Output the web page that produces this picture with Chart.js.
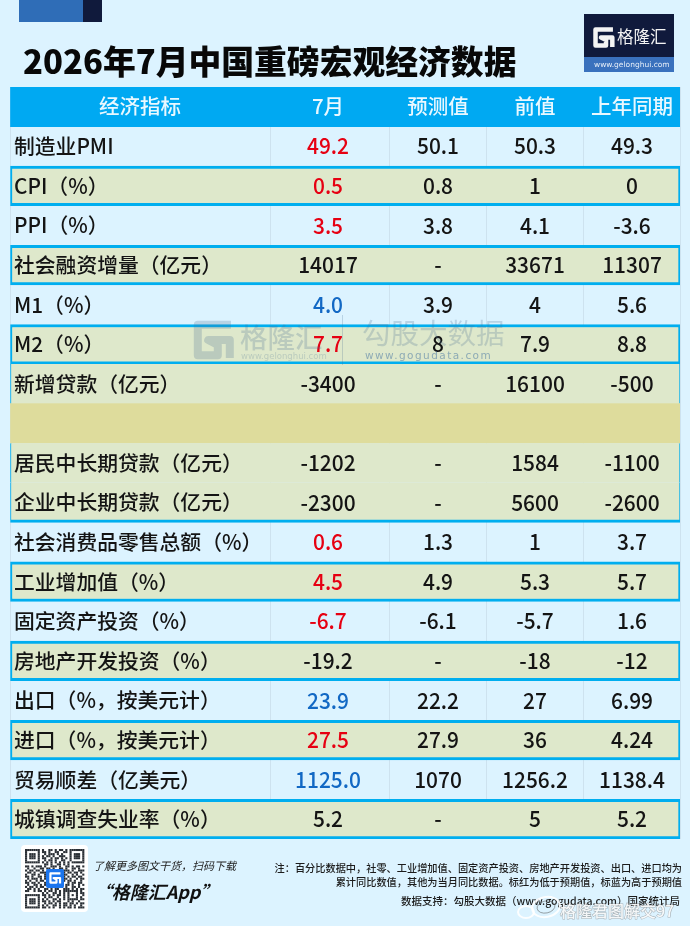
<!DOCTYPE html>
<html><head><meta charset="utf-8">
<style>html,body{margin:0;padding:0;background:#DCF3FF}canvas{display:block;filter:blur(0.35px)}</style>
<script src="https://cdn.jsdelivr.net/npm/chart.js@4"></script>
</head><body><canvas id="c" width="690" height="926"></canvas>
<script>
const titleText = '2026年7月中国重磅宏观经济数据';
const columnHeads = ['经济指标','7月','预测值','前值','上年同期'];
const rowNames = ['经济指标','制造业PMI','CPI（%）','PPI（%）','社会融资增量（亿元）','M1（%）','M2（%）','新增贷款（亿元）','','居民中长期贷款（亿元）','企业中长期贷款（亿元）','社会消费品零售总额（%）','工业增加值（%）','固定资产投资（%）','房地产开发投资（%）','出口（%，按美元计）','进口（%，按美元计）','贸易顺差（亿美元）','城镇调查失业率（%）'];
const julyValues = ['','49.2','0.5','3.5','14017','4.0','7.7','-3400','','-1202','-2300','0.6','4.5','-6.7','-19.2','23.9','27.5','1125.0','5.2'];
const forecastValues = ['','50.1','0.8','3.8','-','3.9','8','-','','-','-','1.3','4.9','-6.1','-','22.2','27.9','1070','-'];
const previousValues = ['','50.3','1','4.1','33671','4','7.9','16100','','1584','5600','1','5.3','-5.7','-18','27','36','1256.2','5'];
const yearAgoValues = ['','49.3','0','-3.6','11307','5.6','8.8','-500','','-1100','-2600','3.7','5.7','1.6','-12','6.99','4.24','1138.4','5.2'];
const julyTone = ['','r','r','r','','b','r','','','','','r','r','r','','b','r','b',''];
const rowKinds = ['head','light','box','light','box','light','box','group','blank','group','groupEnd','light','box','light','box','light','box','light','box'];

const colEdges = [0,260,379,476,573,670];
const colCentres = [130,318,428,525,622];
const FONT = '"Noto Sans CJK SC","Noto Sans",sans-serif';
const BLUE = '#00AEEF', GREEN = '#DEE8CB', INK = '#141414';
const TONES = {r:'#E60012', b:'#1268C4', '':INK};
const FILL = {head:'#00A9F2', light:'rgba(0,0,0,0)', box:GREEN, group:GREEN, groupEnd:GREEN, blank:'#DEDC9C'};
const EDGE = {
  head:{top:0,bottom:0,left:0,right:0}, light:{top:0,bottom:0,left:0,right:0},
  box:{top:3,bottom:3,left:2,right:2}, group:{top:0,bottom:0,left:1,right:1},
  blank:{top:0,bottom:0,left:0,right:0}, groupEnd:{top:0,bottom:3,left:1,right:1}
};
const qrRows = [
'#######.#..##.#.##.#.#######',
'#.....#.##.#..##..##.#.....#',
'#.###.#..#.###.#.#...#.###.#',
'#.###.#.#.##.#..###..#.###.#',
'#.###.#.##..#.##.#.#.#.###.#',
'#.....#..#.##.#..##..#.....#',
'#######.#.#.#.#.#.#.#.######',
'.........##.#..##.#.#.......',
'##.#.###.#..###.#..##.#.##.#',
'.#..#..##.##.#..##.#..##.#..',
'#.##.##.#..#.##.#.###.#..###',
'.##.#..###.#......#.##.##.#.',
'#..##.#..#.#......##..#.#..#',
'##.#..##.##.......#.#.##.##.',
'.#.###.#.#.#......##.#..#.##',
'#.#..#.##..#......#.##.#..#.',
'##.##.#..#.##.#.##..#.##.##.',
'.#..##.#.##.#.##.#.##.#..#.#',
'#.##.#.##..#.#..##.#..##.#..',
'.##.#.#..##.#.##..###.#.#.##',
'##..#.##.#.##.#.#.#######.#.',
'........#.#..##.#.#.#...#.##',
'#######.##.#.#.##.#.#.#.#..#',
'#.....#..#.##..#..#.#...#.#.',
'#.###.#.#.#..##.#.#.#####.##',
'#.###.#.##.#.#.##...#.#..#..',
'#.###.#..#.##.#.#.##.##.#.##',
'#.....#.#.#..##.#.##.#.#..#.',
'#######.##.#.#..#.#.##.#.###'
];

function txt(ctx,s,x,y,font,color,align,spacing){
  ctx.font=font; ctx.fillStyle=color; ctx.textAlign=align||'left'; ctx.textBaseline='middle';
  ctx.letterSpacing=(spacing||0)+'px'; ctx.fillText(s,x,y); ctx.letterSpacing='0px';
}
function narrowTxt(ctx,s,x,y,font,color,squeeze){
  ctx.save(); ctx.translate(x,y); ctx.scale(squeeze,1);
  txt(ctx,s,0,0,font,color,'center'); ctx.restore();
}
function gMark(ctx,x,y,s,color,lw){
  ctx.save(); ctx.strokeStyle=color; ctx.lineWidth=lw; ctx.lineJoin='round';
  ctx.beginPath();
  ctx.moveTo(x+s*0.95,y+s*0.12); ctx.lineTo(x+s*0.12,y+s*0.12); ctx.lineTo(x+s*0.12,y+s*0.88);
  ctx.lineTo(x+s*0.62,y+s*0.88); ctx.lineTo(x+s*0.62,y+s*0.62); ctx.lineTo(x+s*0.38,y+s*0.5); ctx.lineTo(x+s*0.92,y+s*0.5); ctx.lineTo(x+s*0.92,y+s*0.95);
  ctx.stroke(); ctx.restore();
}
const paintBackdrop = { id:'backdrop',
  beforeDraw(chart){ const c=chart.ctx; c.save();
    c.fillStyle='#DCF3FF'; c.fillRect(0,0,690,926);
    c.fillStyle='#2F6DB7'; c.fillRect(19,0,64,22);
    c.fillStyle='#101A3C'; c.fillRect(83,0,19,22);
    c.fillStyle='#101A3C'; c.fillRect(584,14,90,43);
    c.fillStyle='#3A71BD'; c.fillRect(584,57,90,15);
    gMark(c,593,27,21,'#F4F4F4',4.5);
    txt(c,'格隆汇',617,37,'400 16.5px '+FONT,'#F4F4F4');
    txt(c,'www.gelonghui.com',594,65,'7.5px "DejaVu Sans",sans-serif','#E6EEF8');
    txt(c,titleText,23,62,'900 32.8px '+FONT,'#080808');
    c.restore();
  }};
const paintCells = { id:'cells',
  afterDatasetsDraw(chart){ const c=chart.ctx, X=chart.scales.x, Y=chart.scales.y; c.save();
    columnHeads.forEach((h,i)=>txt(c,h,X.getPixelForValue(colCentres[i]),Y.getPixelForValue(0)-1,'500 20.5px '+FONT,'#E9F8FF','center'));
    [julyValues,forecastValues,previousValues,yearAgoValues].forEach((col,k)=>{
      col.forEach((v,r)=>{ if(v==='')return;
        const tone=k===0?TONES[julyTone[r]]:INK;
        narrowTxt(c,v,X.getPixelForValue(colCentres[k+1]),Y.getPixelForValue(r)-0.5,'500 22.5px '+FONT,tone,0.93);
      });
    });
    c.restore();
  }};
const paintOverlay = { id:'overlay',
  afterDraw(chart){ const c=chart.ctx; c.save();
    const wm='rgba(70,110,145,0.24)';
    gMark(c,193,320,40,wm,8);
    txt(c,'格隆汇',240,338,'500 27.5px '+FONT,wm);
    txt(c,'www.gelonghui.com',241,357,'8.5px "DejaVu Sans",sans-serif',wm);
    c.fillStyle=wm; c.fillRect(342,315,1,50);
    txt(c,'勾股大数据',362,333,'400 28.5px '+FONT,wm);
    txt(c,'www.gogudata.com',365,356,'10.5px "DejaVu Sans",sans-serif','rgba(60,110,160,0.5)','left',1.45);
    c.fillStyle='#FFFFFF'; c.beginPath(); c.roundRect(21,845,67,67,4); c.fill();
    c.fillStyle='#2A2F35';
    qrRows.forEach((row,j)=>{ [...row].forEach((m,i)=>{ if(m==='#') c.fillRect(25+i*2.12,849+j*2.05,2.12,2.05); }); });
    c.fillStyle='#1B75EE'; c.beginPath(); c.roundRect(46,869,18,19,2); c.fill();
    gMark(c,49,872,12,'#FFFFFF',2.2);
    txt(c,'了解更多图文干货，扫码下载',93,866,'italic 400 11px '+FONT,'#222');
    txt(c,'“格隆汇App”',156,892,'italic 700 18px '+FONT,'#111','center');
    txt(c,'注：百分比数据中，社零、工业增加值、固定资产投资、房地产开发投资、出口、进口均为',682,868,'500 10.2px '+FONT,'#1c1c1c','right');
    txt(c,'累计同比数值，其他为当月同比数据。标红为低于预期值，标蓝为高于预期值',682,882,'500 10.2px '+FONT,'#1c1c1c','right');
    txt(c,'数据支持：勾股大数据（www.gogudata.com）国家统计局',680,901,'500 10.5px '+FONT,'#1c1c1c','right');
    c.strokeStyle='rgba(255,255,255,0.9)'; c.lineWidth=2;
    c.beginPath(); c.ellipse(526,912,8,6,0,0,7); c.stroke();
    c.beginPath(); c.ellipse(546,907,14,10,-0.2,0,7); c.stroke();
    c.strokeStyle='rgba(90,90,90,0.55)'; c.lineWidth=1;
    c.beginPath(); c.ellipse(546,907,9,6,-0.2,0,7); c.stroke();
    c.font='500 16px '+FONT; c.textAlign='left'; c.textBaseline='middle';
    c.lineWidth=1; c.strokeStyle='rgba(120,120,120,0.55)'; c.strokeText('格隆君图解交97',560,911);
    c.fillStyle='rgba(255,255,255,0.85)'; c.fillText('格隆君图解交97',560,911);
    c.restore();
  }};

new Chart(document.getElementById('c'),{
  type:'bar',
  data:{ labels:rowNames, datasets:[{
    label:'row bands',
    data:rowNames.map(()=>[colEdges[0],colEdges[colEdges.length-1]]),
    backgroundColor:ctx=>FILL[rowKinds[ctx.dataIndex]],
    borderColor:BLUE,
    borderWidth:ctx=>EDGE[rowKinds[ctx.dataIndex]],
    borderSkipped:false,
    barPercentage:1, categoryPercentage:1
  }]},
  options:{
    indexAxis:'y', responsive:false, animation:false, devicePixelRatio:1,
    layout:{padding:{left:10,right:10,top:87,bottom:87}},
    plugins:{legend:{display:false},title:{display:false},tooltip:{enabled:false}},
    scales:{
      x:{ type:'linear', min:0, max:670, border:{display:false},
        afterBuildTicks(s){ s.ticks=colEdges.map(v=>({value:v})); },
        afterFit(s){ s.height=0; },
        ticks:{display:false},
        grid:{color:'#CDE2EF',lineWidth:1,drawTicks:false}
      },
      y:{ type:'category', border:{display:false}, grid:{display:false,drawTicks:false},
        afterFit(s){ s.width=0; },
        ticks:{ mirror:true, padding:4, z:2, autoSkip:false, color:INK,
          font:{family:FONT,size:20.8,weight:'500'},
          callback(v,i){ return i===0?'':rowNames[i]; } }
      }
    }
  },
  plugins:[paintBackdrop,paintCells,paintOverlay]
});
</script></body></html>
